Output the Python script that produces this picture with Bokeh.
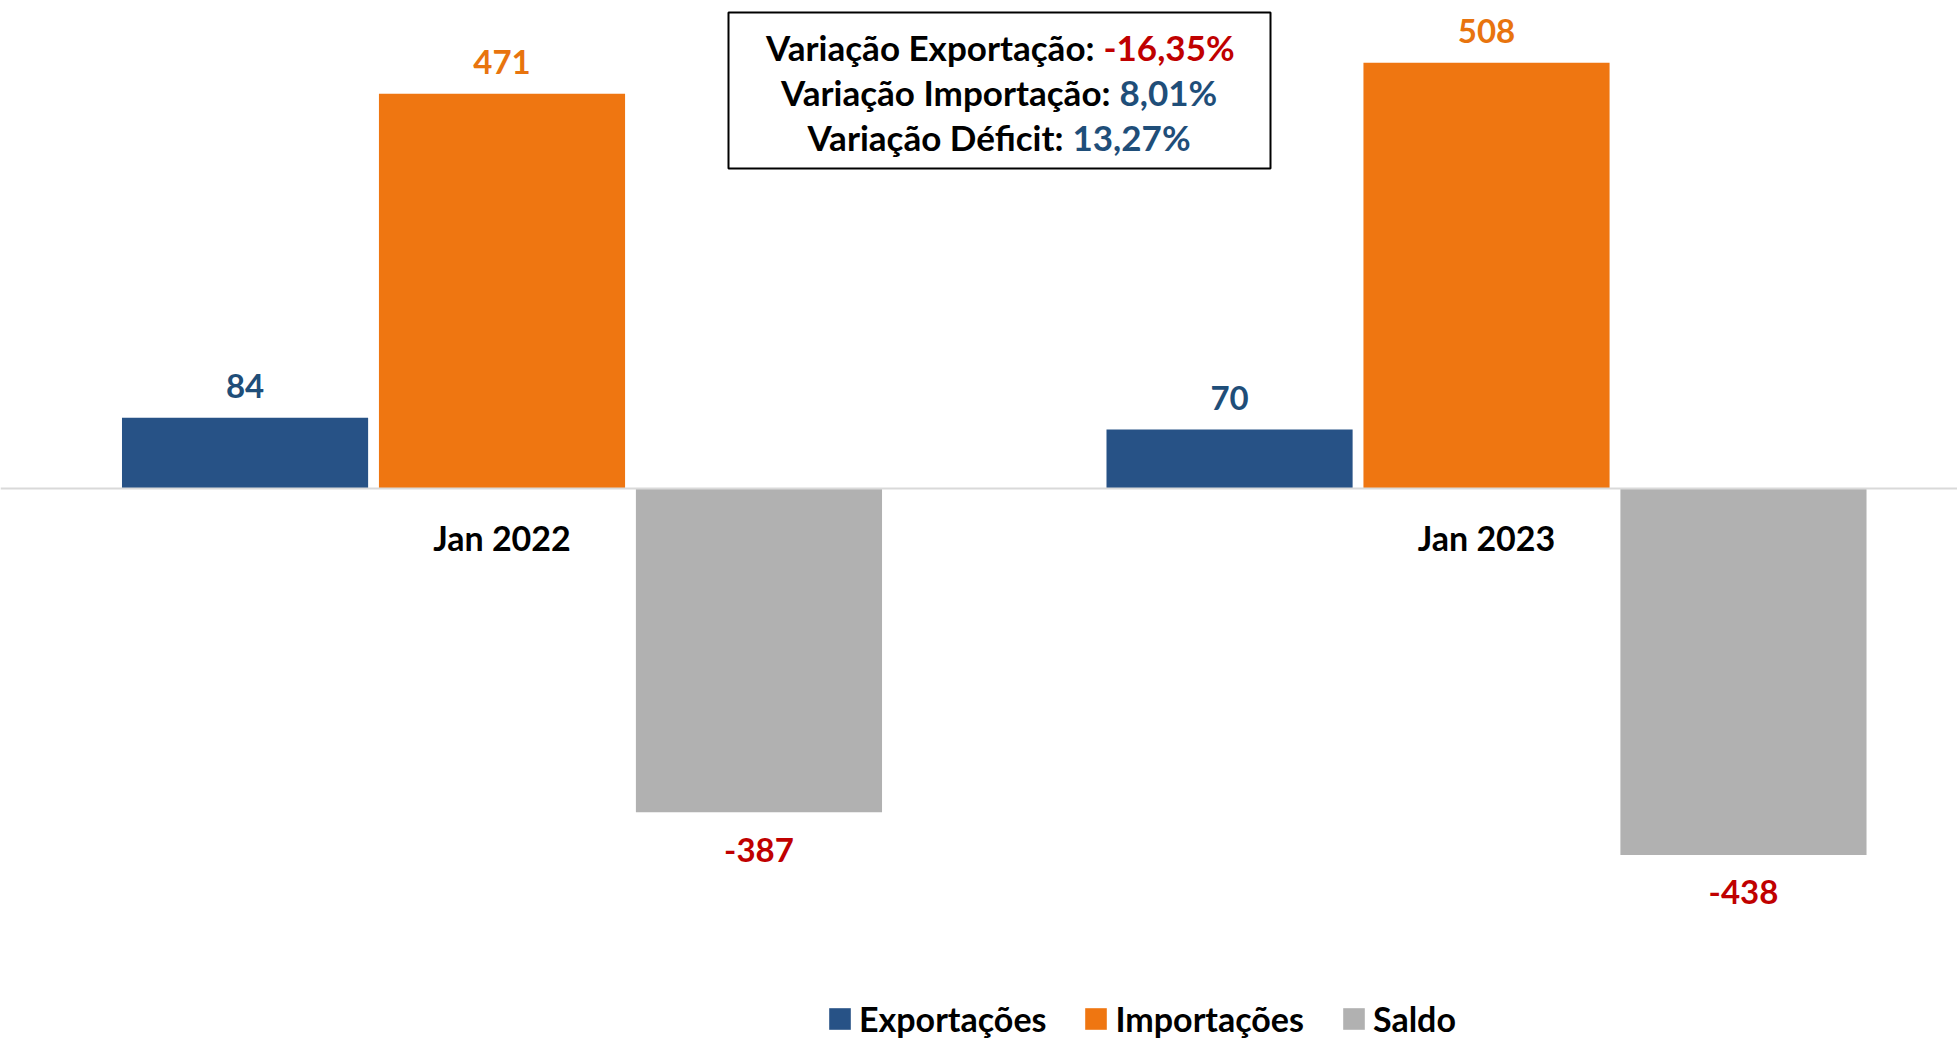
from bokeh.plotting import figure
from bokeh.models import (Range1d, LinearAxis, FixedTicker, ColumnDataSource,
                          BoxAnnotation, Label, Legend, LegendItem)
from bokeh.transform import dodge
from bokeh.core.properties import value
from bokeh.embed import file_html
from bokeh.resources import INLINE

# ---------------- data ----------------
periods = ["Jan 2022", "Jan 2023"]
series_names = ["Exportações", "Importações", "Saldo"]
exportacoes = [84, 70]
importacoes = [471, 508]
saldo = [-387, -438]
variacao_labels = ["Variação Exportação:", "Variação Importação:", "Variação Déficit:"]
variacao_values = ["-16,35%", "8,01%", "13,27%"]

# ---------------- style ----------------
FONT = "Lato"
C_EXP, C_IMP, C_SAL = "#275286", "#EF7611", "#B1B1B1"
L_EXP, L_IMP, L_SAL = "#1F4E79", "#E8740E", "#C00000"
V_COLORS = ["#C00000", "#1F4E79", "#1F4E79"]

W, H = 1957, 1039
X0, X1 = -0.5094, 1.4784
Y0, Y1 = -658.4, 582.4


def px_x(px):
    return X0 + px / W * (X1 - X0)


def px_y(py):
    return Y1 - py / H * (Y1 - Y0)


xs = list(range(len(periods)))
src = ColumnDataSource(dict(
    x=xs,
    exp=exportacoes, imp=importacoes, sal=saldo,
    exp_l=[str(v) for v in exportacoes],
    imp_l=[str(v) for v in importacoes],
    sal_l=[str(v) for v in saldo],
))

p = figure(width=W, height=H, x_range=Range1d(X0, X1), y_range=Range1d(Y0, Y1),
           x_axis_location=None, y_axis_location=None,
           output_backend="svg", toolbar_location=None, min_border=0)
p.outline_line_color = None
p.xgrid.visible = False
p.ygrid.visible = False
p.background_fill_color = "white"

OFF = 0.261
BW = 0.25
r_exp = p.vbar(x=dodge("x", -OFF), top="exp", bottom=0, width=BW, source=src,
               fill_color=C_EXP, line_color=None)
r_imp = p.vbar(x=dodge("x", 0), top="imp", bottom=0, width=BW, source=src,
               fill_color=C_IMP, line_color=None)
r_sal = p.vbar(x=dodge("x", OFF), top="sal", bottom=0, width=BW, source=src,
               fill_color=C_SAL, line_color=None)

lbl_kw = dict(source=src, text_font=value(FONT), text_font_style="bold",
              text_font_size="33px", text_align="center", text_baseline="middle")
p.text(x=dodge("x", -OFF), y="exp", text="exp_l", text_color=L_EXP, y_offset=-31.5, **lbl_kw)
p.text(x=dodge("x", 0), y="imp", text="imp_l", text_color=L_IMP, y_offset=-31.5, **lbl_kw)
p.text(x=dodge("x", OFF), y="sal", text="sal_l", text_color=L_SAL, y_offset=37.5, **lbl_kw)

xaxis = LinearAxis(fixed_location=0)
xaxis.ticker = FixedTicker(ticks=xs)
xaxis.major_label_overrides = {i: periods[i] for i in xs}
xaxis.axis_line_color = "#D9D9D9"
xaxis.axis_line_width = 2
xaxis.major_tick_line_color = None
xaxis.minor_tick_line_color = None
xaxis.major_label_standoff = 23
xaxis.major_label_text_font = FONT
xaxis.major_label_text_font_style = "bold"
xaxis.major_label_text_font_size = "34px"
xaxis.major_label_text_color = "black"
p.add_layout(xaxis, "below")

# annotation box
box = BoxAnnotation(left=px_x(728), right=px_x(1270), top=px_y(12), bottom=px_y(168),
                    fill_color="white", fill_alpha=1.0, line_color="black", line_width=2,
                    line_alpha=1.0)
p.add_layout(box)
line_y = [46, 91, 136]
junction = [1103, 1119, 1072]
for lab, val, col, yy, jx in zip(variacao_labels, variacao_values, V_COLORS, line_y, junction):
    p.add_layout(Label(x=px_x(jx), y=px_y(yy), text=lab, text_align="right",
                       text_baseline="middle", x_offset=-9, text_font=FONT,
                       text_font_style="bold", text_font_size="35px", text_color="black"))
    p.add_layout(Label(x=px_x(jx), y=px_y(yy), text=val, text_align="left",
                       text_baseline="middle", text_font=FONT,
                       text_font_style="bold", text_font_size="35px", text_color=col))

legend = Legend(items=[LegendItem(label=series_names[0], renderers=[r_exp]),
                       LegendItem(label=series_names[1], renderers=[r_imp]),
                       LegendItem(label=series_names[2], renderers=[r_sal])],
                orientation="horizontal", location=(826, 0),
                padding=0, margin=0, spacing=36, label_standoff=6,
                glyph_width=27, glyph_height=27, label_height=22,
                label_text_font=FONT, label_text_font_style="bold",
                label_text_font_size="34px", label_text_color="black",
                border_line_color=None, background_fill_alpha=0)
p.add_layout(legend)

open("out.html", "w").write(file_html(p, INLINE))
